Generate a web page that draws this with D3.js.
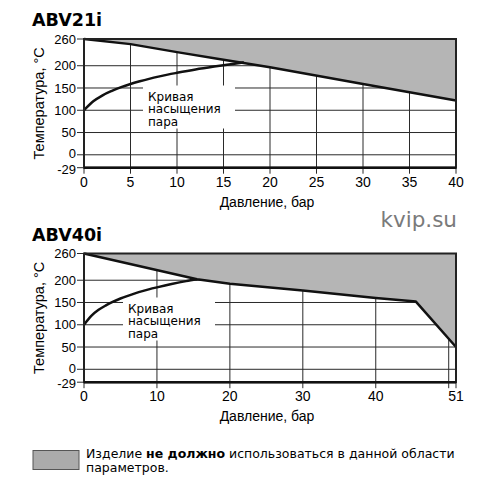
<!DOCTYPE html>
<html>
<head>
<meta charset="utf-8">
<script src="https://cdn.jsdelivr.net/npm/d3@7"></script>
<style>
body { margin: 0; background: #fff; }
svg text { font-family: "Liberation Sans", Arial, sans-serif; }
</style>
</head>
<body>
<svg id="chart" width="486" height="490"></svg>
<script>
// temperature axis (both charts)
var tempTicks = [-29, 0, 50, 100, 150, 200, 260];

// ABV21i
var p1Ticks = [0, 5, 10, 15, 20, 25, 30, 35, 40];
var sat1P = [0, 1, 2, 3, 4, 5, 6, 7, 8, 9, 10, 12, 14, 16, 17.2];
var sat1T = [100, 120, 133.5, 143.5, 152, 159, 165, 170.5, 175.5, 180, 184, 191.5, 198, 204, 207.5];
var lim1P = [0, 5, 10, 15, 20, 30, 40];
var lim1T = [260, 248.5, 230.5, 213.5, 196.5, 159, 122];

// ABV40i
var p2Ticks = [0, 10, 20, 30, 40, 51];
var p2Grid = [0, 10, 20, 30, 40, 50, 51];
var sat2P = [0, 1, 2, 3, 4, 5, 6, 7, 8, 9, 10, 12, 14, 15.5];
var sat2T = [100, 120, 133.5, 143.5, 152, 159, 165, 170.5, 175.5, 180, 184, 191.5, 198, 202];
var lim2P = [0, 15.5, 20, 30, 40, 45.5, 51];
var lim2T = [260, 202, 192, 177, 160, 152, 50];

var svg = d3.select("#chart");
var left = 84, right = 456, plotH = 128.7;

function drawChart(c) {
	var x = d3.scaleLinear().domain([0, c.pmax]).range([left, right]);
	var y = d3.scaleLinear().domain([-29, 260]).range([c.top + plotH, c.top]);
	var g = svg.append("g");

	g.append("text")
		.attr("x", 32).attr("y", c.top - 13)
		.style("font-family", "'DejaVu Sans', sans-serif")
		.style("font-weight", "bold").style("font-size", "17.5px")
		.text(c.title);

	// grid + ticks
	g.selectAll(".hg").data(tempTicks).join("line")
		.attr("x1", left - 7).attr("x2", right)
		.attr("y1", d => y(d)).attr("y2", d => y(d))
		.attr("stroke", "#2a2a2a").attr("stroke-width", 1);
	g.selectAll(".vg").data(c.grid).join("line")
		.attr("x1", d => x(d)).attr("x2", d => x(d))
		.attr("y1", c.top).attr("y2", c.top + plotH + 6)
		.attr("stroke", "#2a2a2a").attr("stroke-width", 1);

	// -29 and 0 sit close together, nudge them apart a little
	g.selectAll(".yl").data(tempTicks).join("text")
		.attr("x", left - 8)
		.attr("y", d => y(d) + (d === -29 ? 1.2 : d === 0 ? -1 : 0))
		.attr("dy", "0.36em")
		.attr("text-anchor", "end").style("font-size", "13px")
		.text(d => d);
	g.selectAll(".xl").data(c.ticks).join("text")
		.attr("x", d => x(d)).attr("y", c.top + plotH + 19)
		.attr("text-anchor", "middle").style("font-size", "14px")
		.text(d => d);

	// forbidden area
	var lim = c.limP.map((p, i) => [p, c.limT[i]]);
	var poly = lim.concat([[c.pmax, 260], [0, 260]]);
	g.append("path")
		.datum(poly)
		.attr("d", d3.line().x(d => x(d[0])).y(d => y(d[1])))
		.attr("fill", "#b5b5b5").attr("stroke", "none");

	// label box
	g.append("rect")
		.attr("x", left + c.lx - 5).attr("y", c.top + c.ly - 15)
		.attr("width", 92).attr("height", 43)
		.attr("fill", "#fff");
	g.append("text")
		.attr("x", left + c.lx).attr("y", c.top + c.ly)
		.style("font-family", "'DejaVu Sans', sans-serif").style("font-size", "12px")
		.selectAll("tspan").data(["Кривая", "насыщения", "пара"]).join("tspan")
		.attr("x", left + c.lx).attr("dy", (d, i) => i ? 12.6 : 0)
		.text(d => d);

	g.append("path")
		.datum(lim)
		.attr("d", d3.line().x(d => x(d[0])).y(d => y(d[1])))
		.attr("fill", "none").attr("stroke", "#111").attr("stroke-width", 2.5)
		.attr("stroke-linejoin", "round");
	g.append("path")
		.datum(c.satP.map((p, i) => [p, c.satT[i]]))
		.attr("d", d3.line().curve(d3.curveMonotoneX).x(d => x(d[0])).y(d => y(d[1])))
		.attr("fill", "none").attr("stroke", "#111").attr("stroke-width", 2.5);

	// frame
	g.append("rect")
		.attr("x", left).attr("y", c.top)
		.attr("width", right - left).attr("height", plotH)
		.attr("fill", "none").attr("stroke", "#222").attr("stroke-width", 2);
	g.append("line")
		.attr("x1", left).attr("x2", right)
		.attr("y1", c.top + plotH).attr("y2", c.top + plotH)
		.attr("stroke", "#111").attr("stroke-width", 2.5);

	// axis titles
	g.append("text")
		.attr("transform", "translate(44," + (c.top + plotH / 2) + ") rotate(-90)")
		.attr("text-anchor", "middle").style("font-size", "14.5px")
		.text("Температура, °C");
	g.append("text")
		.attr("x", (left + right) / 2 - 3).attr("y", c.top + plotH + 39)
		.attr("text-anchor", "middle").style("font-size", "14px")
		.text("Давление, бар");
}

drawChart({title: "ABV21i", top: 39, pmax: 40, ticks: p1Ticks, grid: p1Ticks,
	satP: sat1P, satT: sat1T, limP: lim1P, limT: lim1T, lx: 64, ly: 61.5});
drawChart({title: "ABV40i", top: 253.5, pmax: 51, ticks: p2Ticks, grid: p2Grid,
	satP: sat2P, satT: sat2T, limP: lim2P, limT: lim2T, lx: 44, ly: 59});

svg.append("text")
	.attr("x", 457).attr("y", 227)
	.attr("text-anchor", "end")
	.style("font-family", "'DejaVu Sans', sans-serif").style("font-size", "21.5px")
	.attr("fill", "#7a7a7a")
	.text("kvip.su");

// legend
svg.append("rect")
	.attr("x", 33).attr("y", 450.5).attr("width", 46).attr("height", 19)
	.attr("fill", "#ababab").attr("stroke", "#555").attr("stroke-width", 1);
var leg = svg.append("text")
	.attr("x", 86).attr("y", 457.5)
	.style("font-family", "'DejaVu Sans', sans-serif").style("font-size", "12.5px");
leg.append("tspan").text("Изделие ");
leg.append("tspan").style("font-weight", "bold").text("не должно");
leg.append("tspan").text(" использоваться в данной области");
svg.append("text")
	.attr("x", 86).attr("y", 471.5)
	.style("font-family", "'DejaVu Sans', sans-serif").style("font-size", "12.5px")
	.text("параметров.");
</script>
</body>
</html>
